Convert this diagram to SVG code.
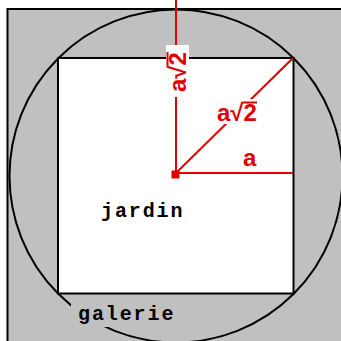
<svg xmlns="http://www.w3.org/2000/svg" width="341" height="341" viewBox="0 0 341 341">
<style>
.blk{fill:none;stroke:#000;stroke-width:2}
.red{stroke:#e00000;stroke-width:2;fill:none}
.bar{stroke:#e00000;stroke-width:2}
.lbl{font-family:"Liberation Mono","DejaVu Sans Mono",monospace;font-weight:bold;font-size:20px;fill:#000;letter-spacing:1.9px}
.math{font-family:"Liberation Sans","DejaVu Sans",sans-serif;font-weight:bold;font-size:24px;fill:#e00000}
</style>
<rect x="0" y="0" width="341" height="341" fill="#fff"/>
<g id="galerie">
<rect x="7.5" y="9" width="345" height="345" fill="#c0c0c0" stroke="#000" stroke-width="2"/>
<circle cx="176" cy="176" r="166.5" class="blk"/>
<rect x="71" y="304" width="108" height="23" fill="#c0c0c0"/>
<text x="78" y="320" class="lbl">galerie</text>
</g>
<g id="jardin">
<rect x="58" y="58" width="235.5" height="235.5" fill="#fff" stroke="#000" stroke-width="2"/>
<text x="101" y="217" class="lbl">jardin</text>
</g>
<g id="connectors">
<line x1="176" y1="0" x2="176" y2="174" class="red"/>
<line x1="176" y1="173" x2="293" y2="173" class="red"/>
<line x1="176" y1="173" x2="293" y2="58" class="red"/>
<rect x="171.5" y="170.5" width="8" height="8" fill="#e00000"/>
</g>
<g id="labels">
<rect x="166" y="45" width="23" height="52" fill="#fff"/>
<g transform="translate(186,92) rotate(-90)">
<text x="0" y="0" class="math">a√2</text>
<line x1="26" y1="-18.5" x2="40" y2="-18.5" class="bar"/>
</g>
<rect x="215" y="99" width="46" height="25" fill="#fff"/>
<text x="217" y="121" class="math">a√2</text>
<line x1="243" y1="102.5" x2="257" y2="102.5" class="bar"/>
<text x="243" y="166" class="math">a</text>
</g>
</svg>
